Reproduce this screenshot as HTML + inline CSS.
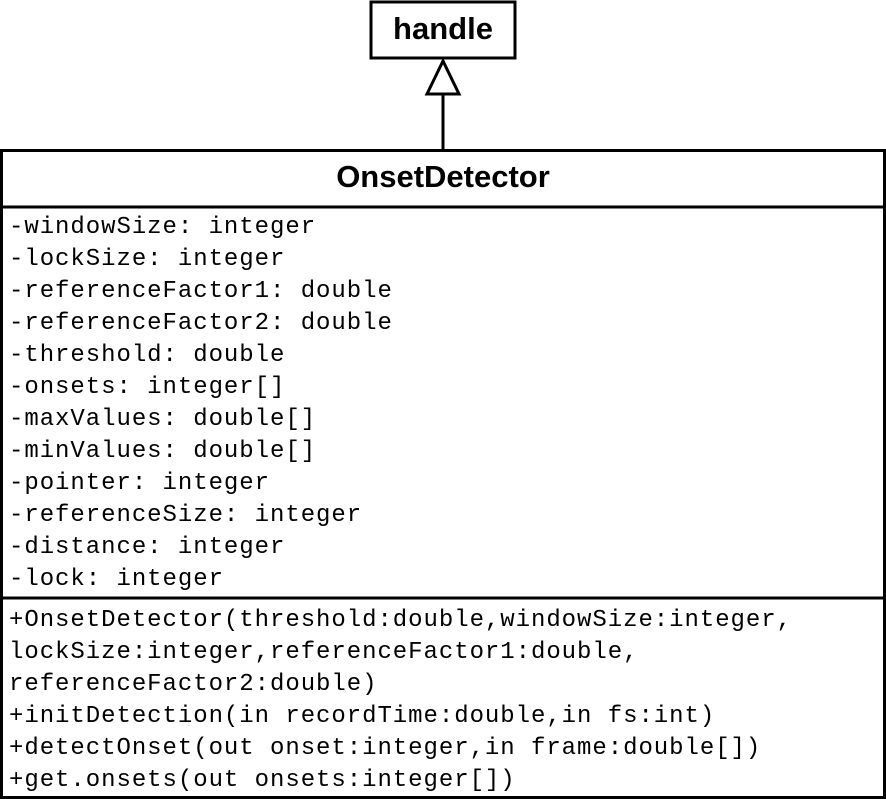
<!DOCTYPE html>
<html><head><style>
html,body{margin:0;padding:0;background:#fff;}
body{width:886px;height:799px;position:relative;overflow:hidden;}
.t{position:absolute;left:9px;font-family:"Liberation Mono",monospace;font-size:24px;letter-spacing:0.95px;line-height:32px;white-space:pre;color:#000;}
</style></head><body>
<svg width="886" height="799" style="position:absolute;left:0;top:0">
<rect x="371" y="2" width="144" height="56" fill="#fff" stroke="#000" stroke-width="3"/>
<text x="443" y="39" text-anchor="middle" font-family="Liberation Sans,sans-serif" font-weight="bold" font-size="31">handle</text>
<line x1="443" y1="94" x2="443" y2="150" stroke="#000" stroke-width="3"/>
<polygon points="443,61 427,94 459,94" fill="#fff" stroke="#000" stroke-width="3"/>
<rect x="1.5" y="150.5" width="883" height="647" fill="none" stroke="#000" stroke-width="3"/>
<line x1="0" y1="207" x2="886" y2="207" stroke="#000" stroke-width="3"/>
<line x1="0" y1="598" x2="886" y2="598" stroke="#000" stroke-width="3"/>
<text x="443" y="187" text-anchor="middle" font-family="Liberation Sans,sans-serif" font-weight="bold" font-size="31">OnsetDetector</text>
</svg>
<div class="t" style="top:212px">-windowSize: integer
-lockSize: integer
-referenceFactor1: double
-referenceFactor2: double
-threshold: double
-onsets: integer[]
-maxValues: double[]
-minValues: double[]
-pointer: integer
-referenceSize: integer
-distance: integer
-lock: integer</div>
<div class="t" style="top:605px">+OnsetDetector(threshold:double,windowSize:integer,
lockSize:integer,referenceFactor1:double,
referenceFactor2:double)
+initDetection(in recordTime:double,in fs:int)
+detectOnset(out onset:integer,in frame:double[])
+get.onsets(out onsets:integer[])</div>
</body></html>
